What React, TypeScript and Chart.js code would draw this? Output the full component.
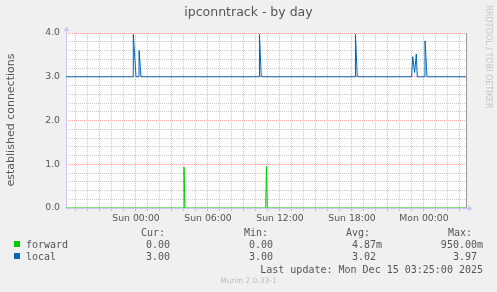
import React, { useEffect, useRef } from 'react';
import { Chart, registerables } from 'chart.js';

Chart.register(...registerables);

const W = 497;
const H = 292;

// hours relative to Sun 00:00
const xMinHour = -5.833;
const xMaxHour = 27.5;

const localHours = [-5.833, -0.233, -0.225, 0.0, 0.25, 0.258, 0.417, 10.28, 10.288, 10.44, 18.28, 18.288, 18.44, 22.97, 23.06, 23.22, 23.36, 23.44, 24.08, 24.088, 24.25, 27.5];
const localValues = [3, 3, 3.97, 3, 3, 3.6, 3, 3, 3.97, 3, 3, 3.97, 3, 3, 3.46, 3.1, 3.52, 3, 3, 3.82, 3, 3];

const forwardHours = [-5.833, 3.93, 4.0, 4.08, 10.81, 10.87, 10.94, 27.5];
const forwardValues = [0, 0, 0.94, 0, 0, 0.95, 0, 0];

const xTickHours = [0, 6, 12, 18, 24];
const xTickLabels = ['Sun 00:00', 'Sun 06:00', 'Sun 12:00', 'Sun 18:00', 'Mon 00:00'];

const seriesNames = ['forward', 'local'];
const seriesColors = ['#00cc00', '#0066b3'];
const curValues = ['0.00 ', '3.00 '];
const minValues = ['0.00 ', '3.00 '];
const avgValues = ['4.87m', '3.02 '];
const maxValues = ['950.00m', '3.97 '];

const titleText = 'ipconntrack - by day';
const yAxisTitle = 'established connections';
const lastUpdate = 'Last update: Mon Dec 15 03:25:00 2025';
const muninVersion = 'Munin 2.0.33-1';
const watermark = 'RRDTOOL / TOBI OETIKER';

const RED = 'rgba(255,0,0,0.35)';
const GRAY = 'rgba(0,0,0,0.2)';
const AXIS = '#c8c8f4';
const TXT = '#555555';
const SANS = "'DejaVu Sans', sans-serif";
const MONO = "'DejaVu Sans Mono', monospace";

const isInt = (v: number) => Math.abs(v - Math.round(v)) < 1e-6;

const overlay = {
  id: 'muninOverlay',
  beforeDraw(chart: any) {
    const { ctx, chartArea: a } = chart;
    ctx.save();
    ctx.fillStyle = '#f0f0f0';
    ctx.fillRect(0, 0, W, H);
    ctx.fillStyle = '#ffffff';
    ctx.fillRect(a.left, a.top, a.right - a.left, a.bottom - a.top);
    ctx.restore();
  },
  beforeDatasetsDraw(chart: any) {
    const { ctx, chartArea: a } = chart;
    ctx.save();
    // right frame line
    ctx.strokeStyle = '#999999';
    ctx.lineWidth = 1;
    ctx.beginPath();
    ctx.moveTo(Math.round(a.right) + 0.5, a.top);
    ctx.lineTo(Math.round(a.right) + 0.5, a.bottom);
    ctx.stroke();
    // axes
    ctx.strokeStyle = AXIS;
    ctx.beginPath();
    ctx.moveTo(Math.round(a.left) + 0.5, a.bottom + 0.5);
    ctx.lineTo(Math.round(a.left) + 0.5, a.top - 4);
    ctx.moveTo(a.left, Math.round(a.bottom) + 0.5);
    ctx.lineTo(a.right + 4, Math.round(a.bottom) + 0.5);
    ctx.stroke();
    ctx.fillStyle = AXIS;
    const lx = Math.round(a.left) + 0.5;
    ctx.beginPath();
    ctx.moveTo(lx - 3, a.top - 2);
    ctx.lineTo(lx + 3, a.top - 2);
    ctx.lineTo(lx, a.top - 7);
    ctx.closePath();
    ctx.fill();
    const by = Math.round(a.bottom) + 0.5;
    ctx.beginPath();
    ctx.moveTo(a.right + 2, by - 3);
    ctx.lineTo(a.right + 2, by + 3);
    ctx.lineTo(a.right + 7, by);
    ctx.closePath();
    ctx.fill();
    ctx.restore();
  },
  afterDraw(chart: any) {
    const { ctx } = chart;
    ctx.save();
    ctx.fillStyle = TXT;
    ctx.textBaseline = 'middle';
    // title
    ctx.font = `12.5px ${SANS}`;
    ctx.textAlign = 'center';
    ctx.fillText(titleText, W / 2, 13);
    // y axis title
    ctx.save();
    ctx.translate(11, 120);
    ctx.rotate(-Math.PI / 2);
    ctx.font = `11px ${SANS}`;
    ctx.fillText(yAxisTitle, 0, 0);
    ctx.restore();
    // watermark
    ctx.save();
    ctx.translate(488, 57);
    ctx.rotate(Math.PI / 2);
    ctx.font = `8px ${SANS}`;
    ctx.fillStyle = '#c4c4c4';
    ctx.fillText(watermark, 0, 0);
    ctx.restore();
    // legend
    ctx.font = `10px ${MONO}`;
    ctx.textAlign = 'left';
    ctx.fillText('Cur:', 141, 233);
    ctx.fillText('Min:', 244, 233);
    ctx.fillText('Avg:', 346, 233);
    ctx.fillText('Max:', 448, 233);
    seriesNames.forEach((name, i) => {
      const y = 245 + i * 12;
      ctx.fillStyle = seriesColors[i];
      ctx.fillRect(14, y - 4, 6, 6);
      ctx.fillStyle = TXT;
      ctx.textAlign = 'left';
      ctx.fillText(name, 26, y);
      ctx.textAlign = 'right';
      ctx.fillText(curValues[i], 176, y);
      ctx.fillText(minValues[i], 279, y);
      ctx.fillText(avgValues[i], 382, y);
      ctx.fillText(maxValues[i], 483, y);
    });
    ctx.textAlign = 'right';
    ctx.fillText(lastUpdate, 483, 270);
    ctx.textAlign = 'center';
    ctx.font = `7.5px ${SANS}`;
    ctx.fillStyle = '#bbbbbb';
    ctx.fillText(muninVersion, W / 2, 281);
    ctx.restore();
  },
};

export default function App() {
  const ref = useRef<HTMLCanvasElement | null>(null);
  useEffect(() => {
    document.body.style.margin = '0';
    const canvas = ref.current;
    if (!canvas) return;
    const gridColor = (c: any) => (c.tick && isInt(c.tick.value) && Math.round(c.tick.value) % (c.scale.axis === 'x' ? 3 : 1) === 0 ? RED : GRAY);
    const chart = new Chart(canvas, {
      type: 'line',
      data: {
        datasets: [
          {
            label: 'local',
            data: localHours.map((h, i) => ({ x: h, y: localValues[i] })),
            borderColor: seriesColors[1],
            borderWidth: 1,
            pointRadius: 0,
            tension: 0,
            fill: false,
          },
          {
            label: 'forward',
            data: forwardHours.map((h, i) => ({ x: h, y: forwardValues[i] })),
            borderColor: seriesColors[0],
            borderWidth: 1,
            pointRadius: 0,
            tension: 0,
            fill: false,
          },
        ],
      },
      options: {
        responsive: false,
        animation: false,
        events: [],
        layout: { padding: { left: 0, right: 31, top: 33, bottom: 64 } },
        plugins: { legend: { display: false }, tooltip: { enabled: false }, title: { display: false } },
        scales: {
          x: {
            type: 'linear',
            min: xMinHour,
            max: xMaxHour,
            afterFit: (s: any) => { s.height = 20; },
            ticks: {
              stepSize: 1,
              autoSkip: false,
              maxRotation: 0,
              minRotation: 0,
              includeBounds: false,
              padding: 2,
              color: TXT,
              font: { family: SANS, size: 9.3 },
              callback: (v: any) => {
                const i = xTickHours.findIndex((h) => Math.abs(h - Number(v)) < 1e-6);
                return i >= 0 ? xTickLabels[i] : '';
              },
            },
            grid: { color: gridColor, lineWidth: 1, drawTicks: true, tickLength: 3 },
            border: { display: false, dash: [1, 1] },
          },
          y: {
            type: 'linear',
            min: 0,
            max: 4,
            afterFit: (s: any) => { s.width = 66; },
            ticks: {
              stepSize: 0.2,
              autoSkip: false,
              padding: 6,
              color: TXT,
              font: { family: SANS, size: 9.3 },
              callback: (v: any) => (isInt(Number(v)) ? Number(v).toFixed(1) : ''),
            },
            grid: { color: gridColor, lineWidth: 1, drawTicks: false },
            border: { display: false, dash: [1, 1] },
          },
        },
      },
      plugins: [overlay],
    } as any);
    return () => chart.destroy();
  }, []);
  return (
    <div style={{ position: 'fixed', left: 0, top: 0, width: W, height: H }}>
      <canvas ref={ref} width={W} height={H} style={{ width: W, height: H, display: 'block' }} />
    </div>
  );
}
